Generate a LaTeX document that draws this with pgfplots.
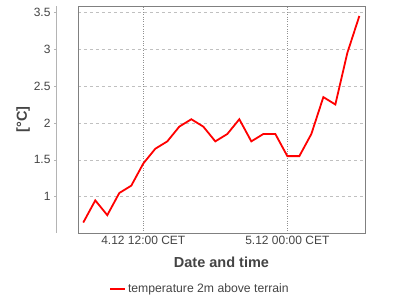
\documentclass[border=0pt]{standalone}
\usepackage{pgfplots}
\pgfplotsset{compat=1.18}
\usepackage{fontspec}
\setmainfont{Liberation Sans}
\definecolor{txt}{HTML}{444444}
\definecolor{boxc}{HTML}{808080}
\definecolor{yaxc}{HTML}{B4B4B4}
\definecolor{hgrid}{HTML}{C0C0C0}
\definecolor{vgrid}{HTML}{909090}
\begin{document}
\begin{tikzpicture}[x=1pt,y=1pt]
\path[use as bounding box] (0,0) rectangle (400,300);
% main axis
\begin{axis}[
  at={(78pt,67pt)}, anchor=south west,
  scale only axis, width=287pt, height=227pt,
  xmin=-5.44, xmax=18.47, ymin=0.508, ymax=3.585,
  axis line style={boxc, line width=0.8pt},
  xtick={0,12}, xticklabels={4.12 12:00 CET, 5.12 00:00 CET},
  ytick={1,1.5,2,2.5,3,3.5}, yticklabels={},
  major tick length=0pt,
  xticklabel style={font=\fontsize{12}{13}\selectfont, text=txt},
  xmajorgrids, ymajorgrids,
  x grid style={vgrid, dotted, line width=0.6pt},
  y grid style={hgrid, dashed, line width=0.6pt},
  xlabel={\bfseries Date and time},
  xlabel style={font=\fontsize{14.5}{15}\selectfont, text=txt, yshift=-5pt},
  legend style={at={(0.425,-0.2467)}, anchor=center, draw=none, fill=none,
    font=\fontsize{12.2}{13}\selectfont, text=txt,
    legend image code/.code={\draw[red, line width=1.8pt] (0pt,0pt) -- (15pt,0pt);}},
]
\addplot[red, line width=1.8pt] coordinates {
(-5,0.65) (-4,0.95) (-3,0.75) (-2,1.05) (-1,1.15) (0,1.45) (1,1.65) (2,1.75)
(3,1.95) (4,2.05) (5,1.95) (6,1.75) (7,1.85) (8,2.05) (9,1.75) (10,1.85)
(11,1.85) (12,1.55) (13,1.55) (14,1.85) (15,2.35) (16,2.25) (17,2.95) (18,3.45)
};
\addlegendentry{temperature 2m above terrain}
\end{axis}
% detached y axis
\begin{axis}[
  at={(56pt,67pt)}, anchor=south west,
  scale only axis, width=1pt, height=227pt,
  xmin=0, xmax=1, ymin=0.508, ymax=3.585,
  axis x line=none, axis y line*=left,
  y axis line style={yaxc, line width=0.8pt, -},
  ytick={1,1.5,2,2.5,3,3.5},
  yticklabels={1,1.5,2,2.5,3,3.5},
  ytick style={yaxc, line width=0.6pt},
  tick align=outside, major tick length=2pt,
  yticklabel style={font=\fontsize{12}{13}\selectfont, text=txt},
  ylabel={\bfseries [°C]},
  ylabel style={font=\fontsize{14.5}{15}\selectfont, text=txt, yshift=-3pt},
]
\addplot[draw=none] coordinates {(0,1)};
\end{axis}
\end{tikzpicture}
\end{document}
